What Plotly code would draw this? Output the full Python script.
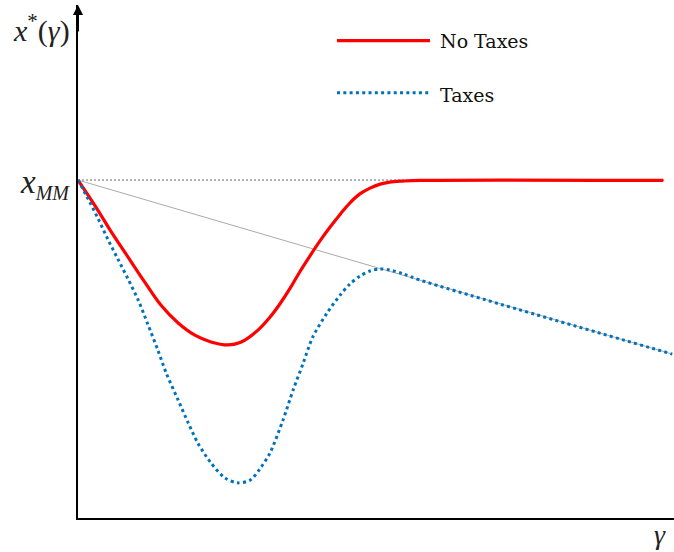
import plotly.graph_objects as go

# gamma (normalised) and optimal x*(gamma) relative to x_MM = 1
gamma_no_tax = [0.000, 0.029, 0.055, 0.084, 0.112, 0.139, 0.168, 0.196, 0.223, 0.252,
                0.273, 0.302, 0.322, 0.339, 0.356, 0.372, 0.389, 0.406, 0.423, 0.440,
                0.456, 0.473, 0.490, 0.507, 0.523, 0.545, 0.574, 0.982]
x_no_tax = [1.000, 0.923, 0.849, 0.772, 0.698, 0.630, 0.577, 0.541, 0.521, 0.512,
            0.520, 0.556, 0.594, 0.634, 0.680, 0.728, 0.775, 0.820, 0.861, 0.899,
            0.932, 0.959, 0.976, 0.988, 0.994, 0.997, 0.999, 0.999]

gamma_tax = [0.000, 0.017, 0.034, 0.050, 0.067, 0.084, 0.101, 0.117, 0.134, 0.148,
             0.168, 0.185, 0.201, 0.223, 0.247, 0.268, 0.289, 0.305, 0.322, 0.344,
             0.361, 0.378, 0.394, 0.418, 0.440, 0.456, 0.473, 0.490, 0.507, 0.523,
             0.545, 0.574, 0.997]
x_tax = [1.000, 0.944, 0.885, 0.825, 0.766, 0.707, 0.645, 0.574, 0.497, 0.429,
         0.349, 0.281, 0.222, 0.163, 0.118, 0.104, 0.112, 0.145, 0.192, 0.290,
         0.379, 0.459, 0.536, 0.607, 0.660, 0.692, 0.716, 0.731, 0.737, 0.734,
         0.723, 0.704, 0.485]

gamma_ref = [0.0, 0.997]
x_ref_line = [1.000, 0.485]
gamma_mm = [0.0, 0.985]
x_mm = [1.0, 1.0]

legend_labels = ["No Taxes", "Taxes"]

X_MAX = 1.0
Y_MAX = 1.518

fig = go.Figure()
fig.add_trace(go.Scatter(x=gamma_mm, y=x_mm, mode="lines",
                         line=dict(color="#666666", width=1, dash="2px,2px"),
                         hoverinfo="skip", showlegend=False))
fig.add_trace(go.Scatter(x=gamma_ref, y=x_ref_line, mode="lines",
                         line=dict(color="#aaaaaa", width=1),
                         hoverinfo="skip", showlegend=False))
fig.add_trace(go.Scatter(x=gamma_no_tax, y=x_no_tax, mode="lines", name=legend_labels[0],
                         line=dict(color="#ff0000", width=3.2, shape="spline", smoothing=1.0),
                         showlegend=False))
fig.add_trace(go.Scatter(x=gamma_tax, y=x_tax, mode="lines", name=legend_labels[1],
                         line=dict(color="#0072BD", width=3, dash="3px,3.3px",
                                   shape="spline", smoothing=0.8),
                         showlegend=False))

serif = "Liberation Serif"
annotations = [
    dict(x=0, y=Y_MAX, ax=0, ay=28, xref="x", yref="y", text="", showarrow=True,
         arrowhead=2, arrowsize=1, arrowwidth=2, arrowcolor="black"),
    dict(x=-0.0101, y=0.955, xref="paper", yref="paper", xanchor="right", yanchor="middle",
         text="<i>x</i><sup>*</sup>(<i>γ</i>)", showarrow=False,
         font=dict(family=serif, size=30, color="#222222")),
    dict(x=-0.0101, y=0.651, xref="paper", yref="paper", xanchor="right", yanchor="middle",
         text="<i>x</i><sub><span style='font-size:20px'><i>MM</i></span></sub>",
         showarrow=False,
         font=dict(family=serif, size=33, color="#222222")),
    dict(x=0.9765, y=-0.066, xref="paper", yref="paper", xanchor="center", yanchor="bottom",
         text="<i>γ</i>", showarrow=False,
         font=dict(family=serif, size=28, color="#222222")),
    dict(x=0.604, y=0.9290, xref="paper", yref="paper", xanchor="left", yanchor="middle",
         text=legend_labels[0], showarrow=False,
         font=dict(family="DejaVu Serif", size=19, color="#111111")),
    dict(x=0.604, y=0.8236, xref="paper", yref="paper", xanchor="left", yanchor="middle",
         text=legend_labels[1], showarrow=False,
         font=dict(family="DejaVu Serif", size=19, color="#111111")),
]

shapes = [
    dict(type="line", xref="paper", yref="paper", x0=0.4346, x1=0.5906, y0=0.9304, y1=0.9304,
         line=dict(color="#ff0000", width=3.2)),
    dict(type="line", xref="paper", yref="paper", x0=0.4346, x1=0.5906, y0=0.8291, y1=0.8291,
         line=dict(color="#0072BD", width=3, dash="3px,3.3px")),
]

fig.update_layout(
    width=674, height=552,
    margin=dict(l=78, r=0, t=5, b=34),
    paper_bgcolor="white", plot_bgcolor="white",
    xaxis=dict(range=[0, X_MAX], showgrid=False, zeroline=False, showticklabels=False,
               ticks="", showline=True, linecolor="black", linewidth=2),
    yaxis=dict(range=[0, Y_MAX], showgrid=False, zeroline=False, showticklabels=False,
               ticks="", showline=True, linecolor="black", linewidth=2),
    annotations=annotations,
    shapes=shapes,
    showlegend=False,
)

fig.write_html("out.html",
               config={"displayModeBar": False},
               post_script="document.body.style.margin='0';document.body.style.overflow='hidden';")
